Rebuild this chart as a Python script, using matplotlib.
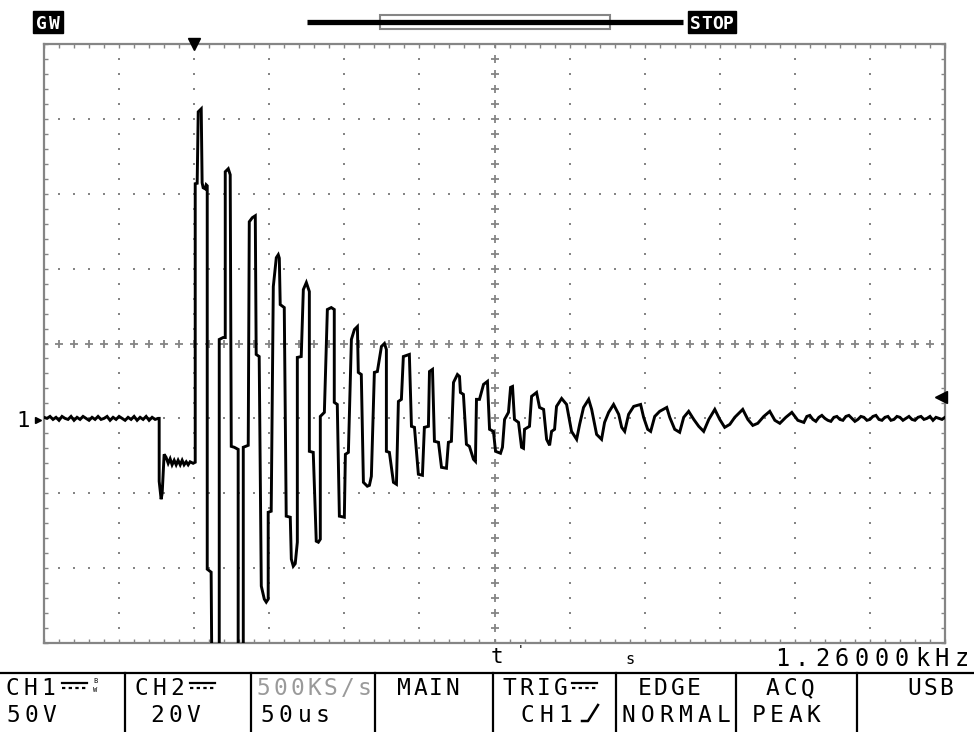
import numpy as np
import matplotlib
matplotlib.use("Agg")
import matplotlib.pyplot as plt
from matplotlib.patches import Rectangle

# CH1 50 V/div, 50 us/div, 12 x 8 divisions, ground one division below centre
SAMPLE_US = 2.0
pre_v = [0.7, 0.0, 1.3, -0.7, 0.7, -1.3, 1.3, 0.0, -0.7, 1.3,
         -1.3, 0.7, -0.7, 1.3, 0.0, -1.3, 0.7, -0.7, 1.3, -0.7,
         0.0, 1.3, -1.3, 0.7, -0.7, 1.3, 0.0, -1.3, 0.7, -0.7,
         1.3, -1.3, 0.7, -0.7, 1.3, -1.3, 0.7, -0.7, 0.0]
pre_start_us = -300.0

ring_t = [-223.3, -223.3, -222.0, -221.3, -220.0, -218.7, -217.3, -216.0, -214.7, -213.3,
          -212.0, -210.7, -209.3, -208.0, -206.7, -205.3, -204.0, -202.7, -200.7, -199.3,
          -199.3, -198.0, -197.3, -195.3, -194.7, -194.0, -192.7, -192.0, -191.3, -191.3,
          -188.7, -188.0, -183.3, -183.3, -180.7, -179.3, -179.3, -177.3, -176.0, -175.3,
          -173.3, -170.7, -170.7, -167.3, -167.3, -164.0, -163.3, -161.3, -159.3, -158.7,
          -156.7, -155.3, -153.3, -152.0, -150.7, -150.7, -148.7, -147.3, -145.3, -144.0,
          -143.3, -142.7, -140.0, -138.7, -136.0, -135.3, -134.0, -132.7, -131.3, -131.3,
          -128.7, -127.3, -125.3, -123.3, -123.3, -120.7, -118.7, -117.3, -116.0, -116.0,
          -113.3, -111.3, -108.7, -106.7, -106.7, -104.7, -103.3, -100.0, -99.3, -97.3,
          -95.3, -93.3, -91.3, -90.7, -88.7, -87.3, -84.7, -83.3, -82.0, -80.0,
          -78.0, -75.3, -73.3, -72.0, -72.0, -70.0, -67.3, -65.3, -64.0, -62.0,
          -60.7, -56.7, -55.3, -53.3, -50.7, -48.0, -46.7, -44.0, -43.3, -41.3,
          -40.0, -37.3, -35.3, -32.0, -30.7, -28.7, -27.3, -24.7, -23.3, -22.7,
          -20.7, -18.7, -16.7, -14.0, -12.7, -12.0, -10.0, -7.3, -4.7, -3.3,
          -0.7, 0.7, 4.0, 5.3, 6.7, 9.3, 10.7, 12.0, 13.3, 16.0,
          18.0, 19.3, 20.0, 23.3, 24.7, 28.0, 30.0, 32.7, 34.7, 36.7,
          38.0, 40.0, 41.3, 44.7, 48.0, 51.3, 54.7, 56.7, 59.3, 62.7,
          64.7, 68.0, 71.3, 73.3, 76.0, 79.3, 82.7, 84.7, 86.7, 89.3,
          92.7, 97.3, 99.3, 102.0, 104.0, 106.7, 110.0, 114.7, 116.7, 120.0,
          123.3, 126.0, 129.3, 132.7, 136.0, 139.3, 142.7, 146.7, 150.0, 153.3,
          156.7, 160.0, 165.3, 168.7, 172.0, 175.3, 179.3, 183.3, 186.7, 190.0,
          194.0, 198.0, 202.0, 206.0]
ring_v = [0.0, -42.0, -54.0, -50.0, -24.0, -26.0, -30.0, -27.0, -31.0, -28.0,
          -31.0, -28.0, -31.0, -28.0, -31.0, -29.0, -31.0, -29.0, -30.0, -29.3,
          156.7, 157.0, 204.7, 206.7, 157.3, 154.0, 153.3, 156.0, 155.3, -100.7,
          -102.7, -200.0, -200.0, 52.7, 54.0, 54.0, 164.7, 166.7, 162.7, -18.7,
          -19.3, -20.7, -200.0, -200.0, -19.3, -18.0, 131.3, 134.0, 135.3, 42.7,
          41.3, -112.0, -120.7, -122.7, -120.7, -62.7, -62.0, 88.0, 107.3, 109.3,
          107.0, 76.0, 74.0, -65.3, -66.0, -94.0, -98.7, -97.0, -82.7, 40.7,
          41.3, 86.0, 90.7, 84.7, -22.0, -22.7, -82.0, -82.7, -80.7, 1.3,
          4.0, 72.7, 74.0, 72.7, 10.7, 9.3, -65.3, -66.0, -24.0, -22.7,
          52.7, 59.3, 61.3, 30.7, 29.3, -42.7, -45.3, -44.7, -38.7, 30.7,
          31.3, 48.0, 50.0, 46.0, -22.0, -22.7, -42.7, -44.0, 11.3, 12.7,
          41.3, 42.7, -5.3, -6.0, -37.3, -38.0, -6.0, -5.3, 31.3, 32.7,
          -15.3, -16.0, -32.7, -33.3, -16.0, -15.3, 24.0, 29.3, 28.0, 17.3,
          16.0, -17.3, -18.7, -27.3, -28.7, 12.7, 12.7, 22.7, 24.7, -7.3,
          -8.7, -22.0, -23.3, -19.3, -0.7, 4.0, 20.7, 21.3, -0.7, -2.7,
          -19.3, -20.0, -7.3, -5.3, 14.7, 17.3, 7.3, 6.0, -14.0, -18.0,
          -8.7, -7.3, 8.0, 13.3, 9.3, -8.7, -14.0, -4.0, 7.3, 12.7,
          6.0, -10.7, -14.0, -2.7, 4.0, 9.3, 2.7, -6.0, -8.7, 2.7,
          8.0, 9.3, 0.7, -7.3, -8.7, 1.3, 4.7, 7.3, 0.7, -7.3,
          -9.3, 0.7, 4.7, -0.7, -5.3, -8.7, -0.7, 6.0, -0.7, -6.0,
          -4.0, 0.7, 6.0, -0.7, -4.7, -3.3, 1.3, 4.7, -1.3, -3.3,
          0.7, 4.0, -1.3, -2.7]

tail_v = [1.3, 2.0, -0.7, -2.0, 0.7, 2.0, 0.0, -1.3, -2.0, 0.7,
          1.3, -0.7, -1.3, 1.3, 2.0, 0.0, -2.0, -0.7, 1.3, 0.7,
          -1.3, -0.7, 1.3, 2.0, -0.7, -1.3, 0.7, 1.3, -1.3, -0.7,
          1.3, 0.7, -1.3, 0.0, 1.3, -0.7, -1.3, 0.7, 1.3, -0.7,
          0.0, 1.3, -1.3, 0.7, 0.0, -0.7, 0.7]
tail_start_us = 208.0

trig_time_us = -200.0
trig_level_v = 14.0

# status bar labels: text, left px, right px (one fixed-width cell per char)
top_row = [("CH1", 3, 57), ("CH2", 132, 186), ("500KS/s", 255, 373),
           ("MAIN", 396, 460), ("TRIG", 501, 569), ("EDGE", 636, 702),
           ("ACQ", 764, 816), ("USB", 906, 954)]
bottom_row = [("50V", 4, 58), ("20V", 148, 202), ("50us", 258, 332),
              ("CH1", 518, 574), ("NORMAL", 619, 733), ("PEAK", 749, 823)]
freq_label = ("1.26000kHz", 772, 972)
separators_x = [125, 251, 375, 493, 616, 736, 857]

GRAY = "#858585"
FONT = "DejaVu Sans Mono"
LABEL_SIZE = 16.5


def cell_text(ax, s, x0, x1, y_base, size=LABEL_SIZE, color="black", **kw):
    """Pixel-font look: each character centred in an equal cell."""
    pitch = (x1 - x0) / len(s)
    for i, ch in enumerate(s):
        ax.text(x0 + pitch * (i + 0.5), y_base, ch, fontsize=size, family=FONT,
                ha="center", va="baseline", color=color, **kw)


pre_t = pre_start_us + SAMPLE_US * np.arange(len(pre_v))
tail_t = tail_start_us + SAMPLE_US * np.arange(len(tail_v))
t = np.concatenate([pre_t, ring_t, tail_t])
v = np.concatenate([pre_v, ring_v, tail_v])

W, H = 974, 732
fig = plt.figure(figsize=(W / 100, H / 100), dpi=100)
fig.patch.set_facecolor("white")

# screen area: pixels 44..945 x 44..643
ax = fig.add_axes([44 / W, (H - 643) / H, 901 / W, 599 / H])
ax.set_xlim(-300, 300)
ax.set_ylim(-150, 250)
ax.set_facecolor("white")
for s in ax.spines.values():
    s.set_color(GRAY)
    s.set_linewidth(1.6)
ax.set_xticks(np.arange(-300, 301, 10))
ax.set_yticks(np.arange(-150, 251, 10))
ax.set_xticklabels([])
ax.set_yticklabels([])
ax.tick_params(direction="in", length=3, width=1.0, color=GRAY,
               top=True, right=True)

# dotted graticule
dot_v = np.arange(-150, 251, 10)
dot_t = np.arange(-300, 301, 10)
for gx in np.arange(-250, 251, 50):
    if gx == 0:
        continue
    ax.plot(np.full_like(dot_v, gx, dtype=float), dot_v, ls="none", marker="s",
            ms=1.7, mew=0, color=GRAY)
for gy in np.arange(-100, 201, 50):
    if gy == 50:
        continue
    ax.plot(dot_t, np.full_like(dot_t, gy, dtype=float), ls="none", marker="s",
            ms=1.7, mew=0, color=GRAY)
# centre axes with crosses
ax.plot(np.zeros_like(dot_v, dtype=float), dot_v, ls="none", marker="+",
        ms=6, mew=1.3, color=GRAY)
ax.plot(dot_t, np.full_like(dot_t, 50, dtype=float), ls="none", marker="+",
        ms=6, mew=1.3, color=GRAY)

ax.plot(t, v, color="black", lw=2.1, solid_joinstyle="miter", zorder=5)

# trigger position / level markers
ax.plot([trig_time_us], [250], marker="v", ms=8, color="black", clip_on=False, zorder=6)
ax.plot([297.5], [trig_level_v], marker="<", ms=9, color="black", clip_on=False, zorder=6)

# chrome in pixel coordinates
ui = fig.add_axes([0, 0, 1, 1])
ui.set_xlim(0, W)
ui.set_ylim(H, 0)
ui.axis("off")
ui.patch.set_alpha(0)

# header
ui.add_patch(Rectangle((33, 11), 30, 22, color="black"))
cell_text(ui, "GW", 35, 61, 29, size=13, color="white", weight="bold")
ui.plot([307, 683], [22, 22], color="black", lw=3.8, solid_capstyle="butt")
ui.add_patch(Rectangle((380, 15), 230, 14, fill=False, ec=GRAY, lw=1.5))
ui.add_patch(Rectangle((688, 11), 48, 22, color="black"))
cell_text(ui, "STOP", 690, 734, 29, size=13, color="white", weight="bold")

# channel 1 ground marker
ui.text(23, 421, "1", fontsize=16, family=FONT, ha="center", va="center")
ui.plot([38], [420], marker=">", ms=5, color="black")

# status line
ui.text(497, 657, "t", fontsize=15, family=FONT, ha="center", va="center")
ui.text(520, 651, "'", fontsize=9, family=FONT, ha="center", va="center")
ui.text(630, 660, "s", fontsize=11, family=FONT, ha="center", va="center")
cell_text(ui, freq_label[0], freq_label[1], freq_label[2], 666, size=17)

ui.plot([0, W], [673, 673], color="black", lw=1.6)
for sx in separators_x:
    ui.plot([sx, sx], [673, H], color="black", lw=1.6)

for lbl, x0, x1 in top_row:
    col = "#9a9a9a" if lbl == "500KS/s" else "black"
    cell_text(ui, lbl, x0, x1, 695, color=col)
for lbl, x0, x1 in bottom_row:
    cell_text(ui, lbl, x0, x1, 722)

# DC coupling symbols
for x0 in (62, 190, 572):
    ui.plot([x0, x0 + 25], [683, 683], color="black", lw=1.6)
    ui.plot([x0, x0 + 25], [688, 688], color="black", lw=1.6, ls=(0, (1.5, 1.5)))
ui.text(95, 681, "B", fontsize=5, family=FONT, ha="center", va="center")
ui.text(95, 690, "W", fontsize=5, family=FONT, ha="center", va="center")
# rising edge symbol
ui.plot([582, 588, 598], [721, 721, 705], color="black", lw=1.8)

fig.savefig("out.png", dpi=100, facecolor="white")
